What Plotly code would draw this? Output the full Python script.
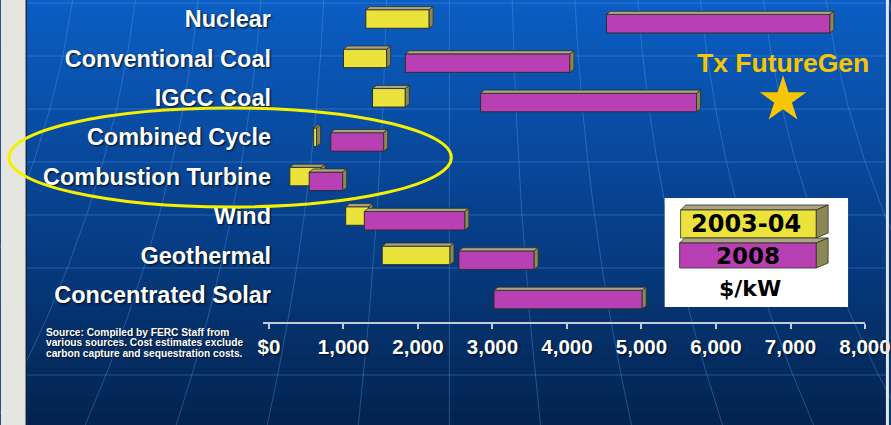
import plotly.graph_objects as go

# ---- data: capital cost ranges, $/kW ----
technologies = ["Nuclear", "Conventional Coal", "IGCC Coal", "Combined Cycle",
                "Combustion Turbine", "Wind", "Geothermal", "Concentrated Solar"]
cost_2003_low = [1300, 1000, 1390, 600, 280, 1030, 1520, None]
cost_2003_high = [2150, 1580, 1830, 640, 700, 1340, 2430, None]
cost_2008_low = [4530, 1830, 2840, 830, 540, 1280, 2550, 3020]
cost_2008_high = [7530, 4040, 5740, 1540, 990, 2630, 3560, 5010]
futuregen_cost = 6900
futuregen_row = "IGCC Coal"
x_ticks = [0, 1000, 2000, 3000, 4000, 5000, 6000, 7000, 8000]
x_tick_labels = ["$0", "1,000", "2,000", "3,000", "4,000", "5,000", "6,000", "7,000", "8,000"]

# ---- page geometry (pixels) ----
W, H = 891, 425
ML, MR, MT, MB = 263, 24, 0, 103
PW, PH = W - ML - MR, H - MT - MB


def fx(px):
    return (px - ML) / PW


def fy(py):
    return 1 - (py - MT) / PH


def lerp_color(c1, c2, t):
    return "rgb(%d,%d,%d)" % tuple(round(a + (b - a) * t) for a, b in zip(c1, c2))


YELLOW = "#ebe33c"
MAGENTA = "#b93fb4"
TOP_FACE = "#aaa582"
SIDE_FACE = "#8c8756"
EDGE = "#2e2e28"
GOLD = "#f7c600"

BAR_W = 0.47
OFF_2003 = 0.0
OFF_2008 = 0.12
DX = 53      # depth of the 3-D edge along x ($/kW)
DY = 0.08    # depth of the 3-D edge along y (rows)


def bar_and_faces(lows, highs, offset, color, xa, ya, name):
    ys, xs, bases = [], [], []
    tx, ty, sx, sy = [], [], [], []
    for i, (lo, hi) in enumerate(zip(lows, highs)):
        if lo is None:
            continue
        yc = i + offset
        ys.append(yc)
        xs.append(hi - lo)
        bases.append(lo)
        yt, yb = yc - BAR_W / 2, yc + BAR_W / 2
        tx += [lo, lo + DX, hi + DX, hi, lo, None]
        ty += [yt, yt - DY, yt - DY, yt, yt, None]
        sx += [hi, hi + DX, hi + DX, hi, hi, None]
        sy += [yt, yt - DY, yb - DY, yb, yt, None]
    bar = go.Bar(orientation="h", y=ys, x=xs, base=bases, width=BAR_W,
                 marker=dict(color=color, line=dict(color=EDGE, width=1)),
                 xaxis=xa, yaxis=ya, name=name, showlegend=False, hoverinfo="skip")
    top = go.Scatter(x=tx, y=ty, mode="lines", fill="toself", fillcolor=TOP_FACE,
                     line=dict(color=EDGE, width=0.8), xaxis=xa, yaxis=ya,
                     showlegend=False, hoverinfo="skip")
    side = go.Scatter(x=sx, y=sy, mode="lines", fill="toself", fillcolor=SIDE_FACE,
                      line=dict(color=EDGE, width=0.8), xaxis=xa, yaxis=ya,
                      showlegend=False, hoverinfo="skip")
    return [bar, top, side]


fig = go.Figure()
for t in bar_and_faces(cost_2003_low, cost_2003_high, OFF_2003, YELLOW, "x", "y", "2003-04"):
    fig.add_trace(t)
for t in bar_and_faces(cost_2008_low, cost_2008_high, OFF_2008, MAGENTA, "x2", "y2", "2008"):
    fig.add_trace(t)

star_row = technologies.index(futuregen_row) + 0.05
fig.add_trace(go.Scatter(x=[futuregen_cost], y=[star_row], mode="markers",
                         marker=dict(symbol="star", size=35, color=GOLD, line=dict(width=0)),
                         xaxis="x2", yaxis="y2", showlegend=False, hoverinfo="skip"))

x_range = [-80, 8000]
y_range = [7.69, -0.482]
label_font = dict(family="Liberation Sans, Arial, sans-serif", size=23.5, color="white",
                  weight="bold", shadow="1px 1px 2px rgba(0,0,0,0.85)")
tick_font = dict(family="Liberation Sans, Arial, sans-serif", size=20.5, color="white",
                 weight="bold", shadow="1px 1px 2px rgba(0,0,0,0.7)")

# ---- background: slide gradient, side strips, faint globe grid ----
shapes = []
top_c, mid_c, bot_c = (11, 94, 196), (7, 62, 135), (3, 35, 78)
n = 60
for k in range(n):
    y0, y1 = H * k / n, H * (k + 1) / n
    t = (y0 + y1) / 2 / H
    col = lerp_color(top_c, mid_c, t / 0.55) if t < 0.55 else lerp_color(mid_c, bot_c, (t - 0.55) / 0.45)
    shapes.append(dict(type="rect", xref="paper", yref="paper", x0=fx(0), x1=fx(W),
                       y0=fy(y1 + 0.5), y1=fy(y0), fillcolor=col, line=dict(width=0), layer="below"))

grid_col = "rgba(95,165,240,0.35)"
for gy in [3, 56, 109, 162, 215, 268, 375]:
    shapes.append(dict(type="line", xref="paper", yref="paper", x0=fx(25), x1=fx(888),
                       y0=fy(gy), y1=fy(gy), line=dict(color=grid_col, width=1), layer="below"))
for k in range(-6, 8):
    xt = 450 + 63 * k
    xc = 450 + 63 * k * 1.08
    xb = 450 + 63 * k * 1.45
    path = "M %f,%f Q %f,%f %f,%f" % (fx(xt), fy(0), fx(xc), fy(212), fx(xb), fy(H))
    shapes.append(dict(type="path", xref="paper", yref="paper", path=path,
                       line=dict(color=grid_col, width=1), layer="below"))

shapes.append(dict(type="rect", xref="paper", yref="paper", x0=fx(0), x1=fx(25),
                   y0=fy(H), y1=fy(0), fillcolor="#e6e6e0", line=dict(width=0), layer="below"))
shapes.append(dict(type="line", xref="paper", yref="paper", x0=fx(25.5), x1=fx(25.5),
                   y0=fy(H), y1=fy(0), line=dict(color="#1c2333", width=1.2), layer="below"))

# highlight ellipse around the gas-fired technologies
shapes.append(dict(type="circle", xref="paper", yref="paper", x0=fx(8), x1=fx(452),
                   y0=fy(207), y1=fy(108), line=dict(color="#f4f000", width=3), layer="above"))

# ---- legend box ----
def poly(pts):
    return "M " + " L ".join("%f,%f" % (fx(a), fy(b)) for a, b in pts) + " Z"


shapes.append(dict(type="rect", xref="paper", yref="paper", x0=fx(666), x1=fx(850),
                   y0=fy(307), y1=fy(198), fillcolor="white", line=dict(width=0), layer="above"))
legend_swatches = [
    (YELLOW, 682, 210, 818, 238, 5),
    (MAGENTA, 681, 243, 818, 268, 5),
]
for col, x0, y0, x1, y1, d in legend_swatches:
    shapes.append(dict(type="path", xref="paper", yref="paper",
                       path=poly([(x0, y0), (x0 + d, y0 - d), (x1 + 12, y0 - d), (x1, y0)]),
                       fillcolor=TOP_FACE, line=dict(color=EDGE, width=0.8), layer="above"))
    shapes.append(dict(type="path", xref="paper", yref="paper",
                       path=poly([(x1, y0), (x1 + 12, y0 - d), (x1 + 12, y1 - d), (x1, y1)]),
                       fillcolor=SIDE_FACE, line=dict(color=EDGE, width=0.8), layer="above"))
    shapes.append(dict(type="rect", xref="paper", yref="paper", x0=fx(x0), x1=fx(x1),
                       y0=fy(y1), y1=fy(y0), fillcolor=col, line=dict(color=EDGE, width=0.8),
                       layer="above"))

legend_font = dict(family="DejaVu Sans, Verdana, sans-serif", size=24, color="black", weight="bold")
annotations = [
    dict(text="2003-04", xref="paper", yref="paper", x=fx(748), y=fy(224),
         showarrow=False, font=legend_font, xanchor="center", yanchor="middle"),
    dict(text="2008", xref="paper", yref="paper", x=fx(750), y=fy(256),
         showarrow=False, font=dict(legend_font, size=23), xanchor="center", yanchor="middle"),
    dict(text="$/kW", xref="paper", yref="paper", x=fx(752), y=fy(288),
         showarrow=False, font=dict(legend_font, size=22), xanchor="center", yanchor="middle"),
    dict(text="<b>Tx FutureGen</b>", xref="x2", yref="y2", x=futuregen_cost, y=star_row,
         yshift=37, showarrow=False, xanchor="center", yanchor="middle",
         font=dict(family="Liberation Sans, Arial, sans-serif", size=26.5, color=GOLD)),
]
source_lines = ["Source: Compiled by FERC Staff from",
                "various sources. Cost estimates exclude",
                "carbon capture and sequestration costs."]
for j, line in enumerate(source_lines):
    annotations.append(dict(text=line, xref="paper", yref="paper", x=fx(43), y=fy(332 + 10.5 * j),
                            xanchor="left", yanchor="middle", showarrow=False,
                            font=dict(family="Liberation Sans, Arial, sans-serif", size=10.2,
                                      color="white", weight="bold",
                                      shadow="1px 1px 1px rgba(0,0,0,0.6)")))

# slide's right-hand border strip, drawn over the last tick label
shapes.append(dict(type="rect", xref="paper", yref="paper", x0=fx(888), x1=fx(W),
                   y0=fy(H), y1=fy(0), fillcolor="#e6e6e0", line=dict(width=0), layer="above"))

fig.update_layout(
    width=W, height=H,
    margin=dict(l=ML, r=MR, t=MT, b=MB, pad=0),
    paper_bgcolor="#063a80", plot_bgcolor="rgba(0,0,0,0)",
    barmode="overlay", showlegend=False,
    shapes=shapes, annotations=annotations,
    xaxis=dict(range=x_range, tickvals=x_ticks, ticktext=x_tick_labels, tickfont=tick_font,
               ticks="outside", ticklen=5, tickwidth=1.5, tickcolor="#c4cad4",
               showline=True, linecolor="#c4cad4", linewidth=2, ticklabeloverflow="allow",
               showgrid=False, zeroline=False, fixedrange=True),
    yaxis=dict(range=y_range, tickvals=list(range(len(technologies))), ticktext=technologies,
               tickfont=label_font, ticks="", showline=False, showgrid=False,
               zeroline=False, ticklabelstandoff=-9, fixedrange=True),
    xaxis2=dict(range=x_range, overlaying="x", visible=False, fixedrange=True),
    yaxis2=dict(range=y_range, overlaying="y", visible=False, fixedrange=True),
)

fig.write_html("out.html")
